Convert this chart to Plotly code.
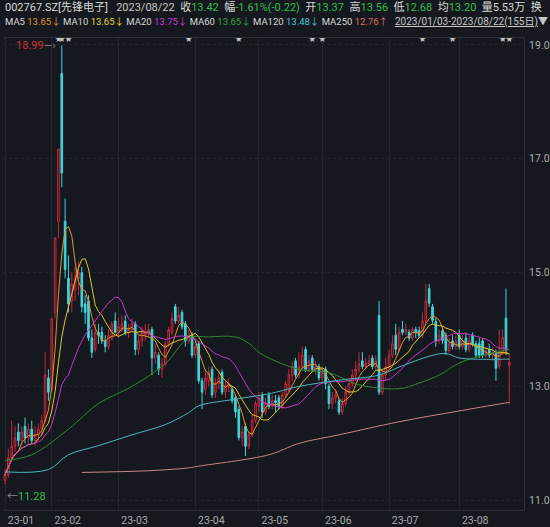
import plotly.graph_objects as go
import pandas as pd

# daily OHLC, 2023-01-03 .. 2023-08-22 (index = trading day)
opens = [11.35, 11.45, 11.75, 11.95, 12.2, 12.05, 12.3, 12.1, 12.25, 12.05, 12.15, 12.25, 12.4, 13.15,
         12.95, 14.3, 15.9, 18.5, 15.9, 14.9, 14.5, 14.7, 14.9, 15.0, 14.45, 14.5, 13.85, 13.65, 13.95, 13.95, 13.8, 13.7, 13.85, 14.15,
         13.95, 14.0, 14.15, 13.95, 14.0, 14.1, 13.65, 13.8, 13.9, 13.95, 14.0, 13.5, 13.55, 13.3, 13.4, 13.75, 13.95, 14.4, 14.15, 14.3, 14.1, 13.8, 13.9,
         13.55, 13.75, 13.1, 12.95, 13.1, 13.3, 12.9, 13.05, 13.25, 12.9, 13.0, 12.95, 12.8, 12.6, 12.1, 12.3, 11.95, 12.15, 12.4,
         12.65, 12.85, 12.55, 12.85, 12.65, 12.75, 12.8, 12.65, 12.85, 12.95, 13.2, 13.45, 13.2, 13.35, 13.65, 13.3, 13.5, 13.3, 13.35,
         13.15, 13.3, 13.0, 12.7, 12.8, 12.75, 12.55, 12.7, 12.9, 13.05, 13.2, 13.3, 13.45, 13.35, 13.4, 13.5, 13.35, 14.25, 12.9, 13.2,
         13.35, 13.55, 13.9, 13.65, 14.0, 13.95, 13.95, 13.85, 14.0, 13.98, 13.9, 14.15, 14.72, 14.4, 14.14, 13.8, 13.98, 13.9, 13.63, 13.8, 13.7,
         13.9, 13.7, 13.85, 13.65, 13.9, 13.75, 13.75, 13.8, 13.55, 13.65, 13.55, 13.58, 13.35, 13.6, 14.2, 13.37]
highs = [11.55, 11.9, 12.4, 12.3, 12.35, 12.3, 12.45, 12.35, 12.4, 12.3, 12.35, 12.5, 13.6, 13.3,
         14.19, 15.61, 17.17, 18.99, 16.3, 15.3, 15.0, 15.1, 15.2, 15.1, 14.6, 14.6, 14.0, 14.1, 14.1, 14.05, 13.9, 14.0, 14.15, 14.3,
         14.2, 14.25, 14.25, 14.1, 14.2, 14.15, 13.9, 14.05, 14.1, 14.1, 14.05, 13.75, 13.6, 13.5, 13.8, 14.05, 14.3, 14.45, 14.4, 14.35, 14.15, 14.0, 13.95,
         13.8, 13.8, 13.15, 13.3, 13.35, 13.35, 13.15, 13.3, 13.3, 13.1, 13.15, 13.0, 12.85, 12.65, 12.3, 12.35, 12.2, 12.5, 12.75,
         12.9, 12.9, 12.8, 12.9, 12.85, 12.85, 12.85, 12.9, 13.1, 13.3, 13.45, 13.5, 13.6, 13.7, 13.7, 13.55, 13.55, 13.45, 13.4,
         13.35, 13.35, 13.05, 12.9, 12.95, 12.8, 12.8, 13.0, 13.15, 13.3, 13.45, 13.6, 13.6, 13.5, 13.55, 13.55, 13.55, 14.5, 13.3, 13.5,
         13.65, 13.9, 14.1, 14.05, 14.15, 14.1, 14.0, 14.05, 14.05, 14.05, 14.3, 14.8, 14.8, 14.45, 14.2, 14.0, 14.05, 13.95, 13.85, 13.9, 13.9,
         14.0, 13.9, 13.95, 13.9, 13.95, 13.8, 13.85, 13.85, 13.7, 13.75, 13.7, 13.65, 14.0, 14.0, 14.72, 13.56]
lows = [11.28, 11.4, 11.7, 11.85, 11.95, 11.95, 12.0, 12.0, 12.0, 11.95, 12.05, 12.15, 12.35, 12.75,
        12.9, 14.2, 15.6, 16.5, 14.9, 14.3, 14.3, 14.5, 14.6, 14.3, 14.1, 13.8, 13.5, 13.6, 13.75, 13.75, 13.6, 13.65, 13.8, 13.95,
        13.85, 13.95, 13.9, 13.85, 13.95, 13.55, 13.55, 13.7, 13.8, 13.85, 13.2, 13.4, 13.2, 13.15, 13.35, 13.7, 13.9, 14.1, 14.1, 14.0, 13.7, 13.75, 13.5,
        13.5, 13.05, 12.6, 12.85, 13.0, 12.8, 12.8, 12.95, 12.85, 12.8, 12.9, 12.7, 12.45, 12.05, 11.95, 11.78, 11.9, 12.1, 12.35,
        12.55, 12.45, 12.5, 12.6, 12.6, 12.55, 12.6, 12.6, 12.8, 12.9, 13.1, 13.15, 13.15, 13.3, 13.25, 13.25, 13.25, 13.2, 13.1,
        13.05, 12.95, 12.6, 12.6, 12.7, 12.5, 12.5, 12.65, 12.85, 13.0, 13.1, 13.25, 13.3, 13.3, 13.35, 13.3, 13.3, 12.85, 12.85, 13.1,
        13.3, 13.5, 13.55, 13.6, 13.9, 13.9, 13.8, 13.8, 13.85, 13.85, 13.85, 14.1, 14.4, 14.1, 13.7, 13.75, 13.75, 13.55, 13.6, 13.65, 13.65,
        13.65, 13.65, 13.6, 13.6, 13.7, 13.5, 13.5, 13.5, 13.5, 13.5, 13.45, 13.1, 13.3, 13.55, 13.55, 12.68]
closes = [11.45, 11.75, 11.95, 12.1, 12.05, 12.2, 12.1, 12.25, 12.05, 12.15, 12.25, 12.4, 13.2, 12.9,
          14.19, 15.61, 17.17, 16.75, 15.05, 14.45, 14.8, 14.9, 15.0, 14.4, 14.3, 13.85, 13.6, 13.95, 13.9, 13.8, 13.7, 13.9, 14.1, 13.95,
          14.05, 14.1, 13.95, 14.0, 14.1, 13.65, 13.8, 13.95, 13.95, 14.0, 13.5, 13.6, 13.3, 13.4, 13.75, 14.0, 14.2, 14.15, 14.25, 14.05, 13.8, 13.9, 13.55,
          13.7, 13.1, 12.9, 13.15, 13.25, 12.85, 13.05, 13.15, 12.9, 13.0, 13.05, 12.75, 12.55, 12.1, 12.2, 11.95, 12.15, 12.4, 12.7,
          12.8, 12.55, 12.7, 12.65, 12.75, 12.72, 12.65, 12.85, 13.05, 13.2, 13.35, 13.2, 13.35, 13.55, 13.3, 13.45, 13.3, 13.35, 13.15,
          13.25, 13.05, 12.7, 12.8, 12.85, 12.55, 12.7, 12.9, 13.05, 13.2, 13.3, 13.4, 13.35, 13.4, 13.45, 13.35, 13.45, 12.9, 13.2, 13.35,
          13.55, 13.75, 13.65, 13.95, 13.95, 14.0, 13.85, 14.0, 13.95, 13.9, 14.15, 14.5, 14.46, 14.16, 13.8, 13.9, 13.81, 13.63, 13.75, 13.7, 13.8,
          13.7, 13.8, 13.65, 13.8, 13.75, 13.55, 13.55, 13.55, 13.62, 13.55, 13.6, 13.32, 13.6, 13.86, 13.64, 13.42]

# long moving averages at sample days
ma60_day = [0, 8, 19, 28, 38, 48, 55, 61, 69, 73, 76, 79, 88, 97, 106, 118, 124, 130, 136, 142, 151]
ma60_val = [11.7, 11.8, 12.25, 12.7, 13.0, 13.4, 13.85, 13.87, 13.87, 13.76, 13.6, 13.5, 13.3, 13.24, 13.03, 12.96, 13.06, 13.2, 13.41, 13.53, 13.65]
ma120_day = [0, 13, 19, 28, 38, 48, 55, 58, 67, 79, 88, 100, 112, 118, 127, 132, 136, 151]
ma120_val = [11.5, 11.54, 11.8, 11.96, 12.15, 12.33, 12.54, 12.66, 12.76, 12.87, 13.0, 13.11, 13.2, 13.34, 13.53, 13.58, 13.5, 13.48]
ma250_day = [23, 43, 55, 58, 79, 88, 100, 118, 136, 151]
ma250_val = [11.49, 11.52, 11.57, 11.6, 11.8, 12.0, 12.15, 12.38, 12.57, 12.72]

month_start = [0, 14, 34, 57, 76, 95, 115, 136]
month_labels = ["23-01", "23-02", "23-03", "23-04", "23-05", "23-06", "23-07", "23-08"]
star_days = [16, 17, 19, 55, 70, 92, 95, 125, 134, 149, 151]
y_ticks = [11.0, 13.0, 15.0, 17.0, 19.0]

days = list(range(len(closes)))
s = pd.Series(closes)
ma5 = s.rolling(5, min_periods=1).mean()
ma10 = s.rolling(10, min_periods=1).mean()
ma20 = s.rolling(20, min_periods=1).mean()

BG = "#15181e"
GREY = "#a8abb0"

fig = go.Figure()
fig.add_trace(go.Candlestick(
    x=days, open=opens, high=highs, low=lows, close=closes,
    increasing=dict(line=dict(color="#c8283a", width=1), fillcolor="rgba(0,0,0,0)"),
    decreasing=dict(line=dict(color="#3fd6dc", width=1), fillcolor="#3fd6dc"),
    whiskerwidth=0, showlegend=False, hoverinfo="skip",
))
for y, c in [(ma5, "#e0962a"), (ma10, "#d9c92c"), (ma20, "#c53ac8")]:
    fig.add_trace(go.Scatter(x=days, y=y, mode="lines", line=dict(color=c, width=1),
                             showlegend=False, hoverinfo="skip"))
for xs, ys, c in [(ma60_day, ma60_val, "#2f8a2f"), (ma120_day, ma120_val, "#4fb4be"),
                  (ma250_day, ma250_val, "#c98484")]:
    fig.add_trace(go.Scatter(x=xs, y=ys, mode="lines", line=dict(color=c, width=1, shape="spline"),
                             showlegend=False, hoverinfo="skip"))

# stars above
fig.add_trace(go.Scatter(x=star_days, y=[19.1] * len(star_days), mode="text", text=["★"] * len(star_days),
                         textfont=dict(size=7, color="#c8c8c8"), showlegend=False, hoverinfo="skip"))

G = "#2fbf4f"
line1 = ("<span style='color:#d8d8d8'>002767.SZ[先锋电子]</span>   <span style='color:#c8c8c8'>2023/08/22</span>  "
         "收<span style='color:%s'>13.42</span>  幅<span style='color:%s'>-1.61%%(-0.22)</span>  "
         "开<span style='color:%s'>13.37</span>  高<span style='color:%s'>13.56</span>  "
         "低<span style='color:%s'>12.68</span>  均<span style='color:%s'>13.20</span>  量5.53万  换") % ((G,) * 6)
line2 = ("MA5 <span style='color:#e0962a'>13.65↓</span> MA10 <span style='color:#e6d83a'>13.65↓</span> "
         "MA20 <span style='color:#d23ad6'>13.75↓</span> MA60 <span style='color:#2fa83a'>13.65↓</span> "
         "MA120 <span style='color:#4fc8d2'>13.48↓</span> MA250 <span style='color:#e06a6a'>12.76↑</span>")
ann = [
    dict(x=0, y=1.066, xref="paper", yref="paper", xanchor="left", yanchor="middle", showarrow=False,
         text=line1, font=dict(size=11, color="#d8d8d8")),
    dict(x=0, y=1.034, xref="paper", yref="paper", xanchor="left", yanchor="middle", showarrow=False,
         text=line2, font=dict(size=9.5, color="#d8d8d8")),
    dict(x=1.05, y=1.034, xref="paper", yref="paper", xanchor="right", yanchor="middle", showarrow=False,
         text="<u>2023/01/03-2023/08/22(155日)</u>▼", font=dict(size=10, color="#c8c8c8")),
    dict(x=17, y=18.99, xanchor="right", yanchor="middle", showarrow=False, xshift=-4,
         text="<span style='color:#d03030'>18.99</span><span style='color:#888'>—›</span>", font=dict(size=11)),
    dict(x=0, y=11.28, xanchor="left", yanchor="middle", showarrow=False, yshift=-12,
         text="<span style='color:#888'>←</span><span style='color:#2fbf4f'>11.28</span>", font=dict(size=11)),
]

fig.update_layout(
    width=550, height=527, margin=dict(l=3, r=26, t=38, b=17),
    paper_bgcolor=BG, plot_bgcolor=BG,
    font=dict(family="Roboto, Noto Sans CJK SC, sans-serif", color=GREY),
    annotations=ann,
    xaxis=dict(range=[-0.6, 155.4], rangeslider=dict(visible=False), tickvals=month_start,
               ticktext=month_labels, ticklabelshift=16, ticklabelstandoff=0, automargin=False,
               tickfont=dict(size=10.5, color=GREY),
               showgrid=True, gridcolor="#22262d", zeroline=False,
               showline=True, linecolor="#2a2e35", mirror=True, ticks=""),
    yaxis=dict(range=[10.83, 19.12], side="right", tickvals=y_ticks, ticktext=["11.0", "13.0", "15.0", "17.0", "19.0"],
               showgrid=True, gridcolor="#22262d", griddash="dot", zeroline=False, automargin=False,
               ticklabelstandoff=2,
               showline=True, linecolor="#2a2e35", tickfont=dict(size=10.5, color=GREY), ticks=""),
)
fig.write_html("out.html", config={"displayModeBar": False},
               post_script="document.body.style.margin='0';document.body.style.background='%s';" % BG)
